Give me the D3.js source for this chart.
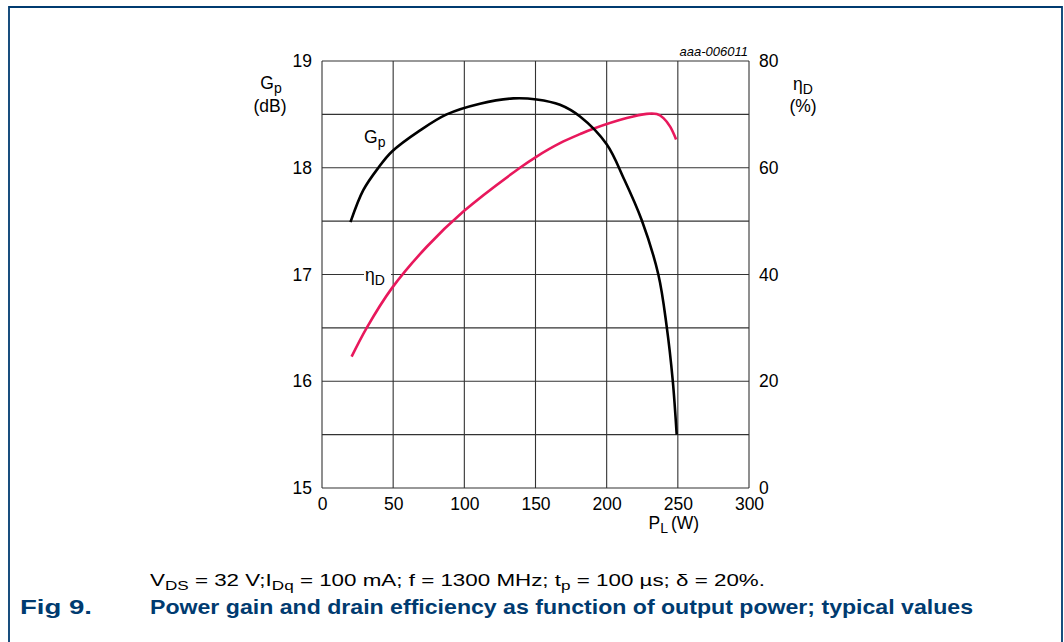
<!DOCTYPE html>
<html><head><meta charset="utf-8">
<script src="https://cdn.jsdelivr.net/npm/d3@7"></script>
<style>body{margin:0;background:#fff}svg{display:block;font-family:"Liberation Sans",Arial,sans-serif}</style>
</head><body><svg id="c" width="1064" height="642"></svg>
<script>
const xTicks = [0, 50, 100, 150, 200, 250, 300];
const gTicks = [15, 16, 17, 18, 19];
const eTicks = [0, 20, 40, 60, 80];
const gainPower = [20, 29, 39.6, 49, 68.9, 87.6, 111, 134.4, 150.8, 167.2, 181.3, 200, 212, 224.6, 236.3, 242.2, 246.4, 249.2];
const gainDb    = [17.49, 17.79, 18.0, 18.15, 18.35, 18.5, 18.6, 18.65, 18.64, 18.59, 18.48, 18.22, 17.9, 17.51, 17.0, 16.51, 16.01, 15.5];
const effPower  = [20.8, 31.4, 49, 73.6, 99.3, 139.1, 150.8, 167.2, 181.3, 190.6, 214.1, 228.1, 235.2, 239.9, 244.6, 248.8];
const effPct    = [24.6, 30.0, 37.4, 45.2, 51.8, 60.0, 62.1, 64.6, 66.3, 67.3, 69.3, 70.1, 70.05, 69.3, 67.7, 65.3];

const svg = d3.select("#c");
const L = 322, R = 749, T = 61, B = 488;
const x = d3.scaleLinear().domain([0, 300]).range([L, R]);
const yG = d3.scaleLinear().domain([15, 19]).range([B, T]);
const yE = d3.scaleLinear().domain([0, 80]).range([B, T]);
const navy = "#003b70";
const FS = 17.5;

// frame
svg.append("path").attr("d", `M9,642V7H1062V642`).attr("fill", "none").attr("stroke", navy).attr("stroke-width", 1.8);

// grid
const grid = svg.append("g").attr("stroke", "#333").attr("stroke-width", 1.1);
d3.range(15, 19.01, 0.5).forEach(v => grid.append("line").attr("x1", L).attr("x2", R).attr("y1", yG(v)).attr("y2", yG(v)));
xTicks.forEach(v => grid.append("line").attr("x1", x(v)).attr("x2", x(v)).attr("y1", T).attr("y2", B));

// axes (labels only)
const axL = svg.append("g").attr("transform", `translate(${L},0)`).call(d3.axisLeft(yG).tickValues(gTicks).tickSize(0).tickPadding(10).tickFormat(d3.format("d")));
const axR = svg.append("g").attr("transform", `translate(${R},0)`).call(d3.axisRight(yE).tickValues(eTicks).tickSize(0).tickPadding(10).tickFormat(d3.format("d")));
const axB = svg.append("g").attr("transform", `translate(0,${B})`).call(d3.axisBottom(x).tickValues(xTicks).tickSize(0).tickPadding(10).tickFormat(d3.format("d")));
[axL, axR, axB].forEach(a => { a.select(".domain").remove(); a.selectAll("text").attr("font-size", FS).attr("fill", "#000").attr("font-family", "Liberation Sans, Arial, sans-serif"); });

// curves
const lineG = d3.line().x(d => x(d[0])).y(d => yG(d[1])).curve(d3.curveCatmullRom.alpha(0.5));
const lineE = d3.line().x(d => x(d[0])).y(d => yE(d[1])).curve(d3.curveCatmullRom.alpha(0.5));
svg.append("path").attr("d", lineE(d3.zip(effPower, effPct))).attr("fill", "none").attr("stroke", "#e8185c").attr("stroke-width", 2.6);
svg.append("path").attr("d", lineG(d3.zip(gainPower, gainDb))).attr("fill", "none").attr("stroke", "#000").attr("stroke-width", 2.6);

function sub(base, s, fs) {
  const el = svg.append("text").attr("font-size", fs).attr("fill", "#000");
  el.append("tspan").text(base);
  el.append("tspan").attr("font-size", fs * 0.8).attr("dy", fs * 0.22).text(s);
  return el;
}
// curve labels
svg.append("rect").attr("x", 364).attr("y", 269).attr("width", 27).attr("height", 11).attr("fill", "#fff");
sub("η", "D", FS).attr("x", 365).attr("y", 281);
sub("G", "p", FS).attr("x", 364).attr("y", 143);

// axis titles
sub("G", "p", FS).attr("x", 271).attr("y", 89).attr("text-anchor", "middle");
svg.append("text").attr("x", 270).attr("y", 112).attr("font-size", FS).attr("text-anchor", "middle").text("(dB)");
sub("η", "D", FS).attr("x", 803).attr("y", 90).attr("text-anchor", "middle");
svg.append("text").attr("x", 803).attr("y", 112).attr("font-size", FS).attr("text-anchor", "middle").text("(%)");
sub("P", "L", FS).attr("x", 668).attr("y", 529).attr("text-anchor", "end");
svg.append("text").attr("x", 671).attr("y", 529).attr("font-size", FS).text("(W)");
svg.append("text").attr("x", 748).attr("y", 56).attr("font-size", 13).attr("font-style", "italic").attr("text-anchor", "end").text("aaa-006011");

// caption
const c1 = svg.append("text").attr("x", 150).attr("y", 586).attr("font-size", 17).attr("fill", "#000")
  .attr("textLength", 615).attr("lengthAdjust", "spacingAndGlyphs");
const parts = [["V",0],["DS",1],[" = 32 V;I",0],["Dq",1],[" = 100 mA; f = 1300 MHz; t",0],["p",1],[" = 100 \u00b5s; \u03b4 = 20%.",0]];
let prev = 0;
parts.forEach(([t, s]) => {
  const dy = s ? 3.5 : 0;
  c1.append("tspan").attr("dy", dy - prev).attr("font-size", s ? 13 : 17).text(t);
  prev = dy;
});
svg.append("text").attr("x", 20).attr("y", 614).attr("font-size", 21).attr("font-weight", "bold").attr("fill", navy)
  .attr("textLength", 72).attr("lengthAdjust", "spacingAndGlyphs").text("Fig 9.");
svg.append("text").attr("x", 150).attr("y", 614).attr("font-size", 21).attr("font-weight", "bold").attr("fill", navy)
  .attr("textLength", 823).attr("lengthAdjust", "spacingAndGlyphs")
  .text("Power gain and drain efficiency as function of output power; typical values");
</script></body></html>
